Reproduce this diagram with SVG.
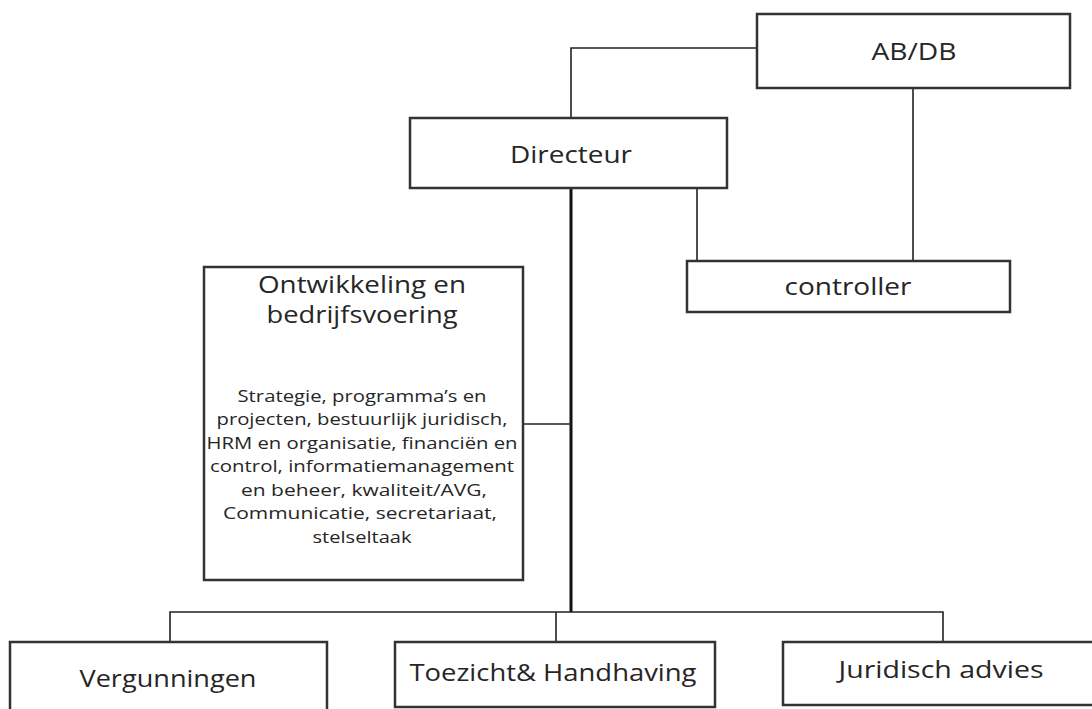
<svg xmlns="http://www.w3.org/2000/svg" width="1092" height="709" viewBox="0 0 1092 709">
<style>
.box{fill:#fff;stroke:#333;stroke-width:2.5}
.c{fill:none;stroke:#222;stroke-width:1.6}
.thick{fill:none;stroke:#111;stroke-width:3}
text{font-family:"Open Sans",Lato,"Liberation Sans",sans-serif;fill:#262626;text-anchor:middle}
.t{font-size:23px}
.h{font-size:24px}
.s{font-size:17px}
</style>
<rect width="1092" height="709" fill="#fff"/>
<g id="connectors">
<path class="c" d="M757,48 H571 V118"/>
<path class="c" d="M913,88 V261"/>
<path class="c" d="M697,188 V261"/>
<path class="thick" d="M571,188 V612"/>
<path class="c" d="M523,424 H571"/>
<path class="c" d="M170,642 V612 H943 V642 M556,612 V642"/>
</g>
<g id="abdb"><rect class="box" x="757" y="14" width="313" height="74"/><text class="t" x="914" y="60" textLength="85" lengthAdjust="spacingAndGlyphs">AB/DB</text></g>
<g id="directeur"><rect class="box" x="410" y="118" width="317" height="70"/><text class="t" x="571" y="163" textLength="122" lengthAdjust="spacingAndGlyphs">Directeur</text></g>
<g id="controller"><rect class="box" x="687" y="261" width="323" height="51"/><text class="t" x="848" y="295" textLength="127" lengthAdjust="spacingAndGlyphs">controller</text></g>
<g id="ontwikkeling"><rect class="box" x="204" y="267" width="319" height="313"/>
<text class="h" x="362" y="293" textLength="208" lengthAdjust="spacingAndGlyphs">Ontwikkeling en</text>
<text class="h" x="362" y="323" textLength="191" lengthAdjust="spacingAndGlyphs">bedrijfsvoering</text>
<text class="s" x="362" y="402" textLength="249" lengthAdjust="spacingAndGlyphs">Strategie, programma’s en</text>
<text class="s" x="362" y="425" textLength="291" lengthAdjust="spacingAndGlyphs">projecten, bestuurlijk juridisch,</text>
<text class="s" x="362" y="449" textLength="311" lengthAdjust="spacingAndGlyphs">HRM en organisatie, financiën en</text>
<text class="s" x="362" y="472" textLength="304" lengthAdjust="spacingAndGlyphs">control, informatiemanagement</text>
<text class="s" x="364" y="496" textLength="246" lengthAdjust="spacingAndGlyphs">en beheer, kwaliteit/AVG,</text>
<text class="s" x="360" y="519" textLength="274" lengthAdjust="spacingAndGlyphs">Communicatie, secretariaat,</text>
<text class="s" x="362" y="543" textLength="99" lengthAdjust="spacingAndGlyphs">stelseltaak</text>
</g>
<g id="vergunningen"><rect class="box" x="10" y="642" width="317" height="80"/><text class="t" x="168" y="687" textLength="177" lengthAdjust="spacingAndGlyphs">Vergunningen</text></g>
<g id="toezicht"><rect class="box" x="395" y="642" width="320" height="65"/><text class="t" x="553" y="681" textLength="287" lengthAdjust="spacingAndGlyphs">Toezicht&amp; Handhaving</text></g>
<g id="juridisch"><rect class="box" x="783" y="642" width="320" height="63"/><text class="t" x="941" y="678" textLength="205" lengthAdjust="spacingAndGlyphs">Juridisch advies</text></g>
</svg>
